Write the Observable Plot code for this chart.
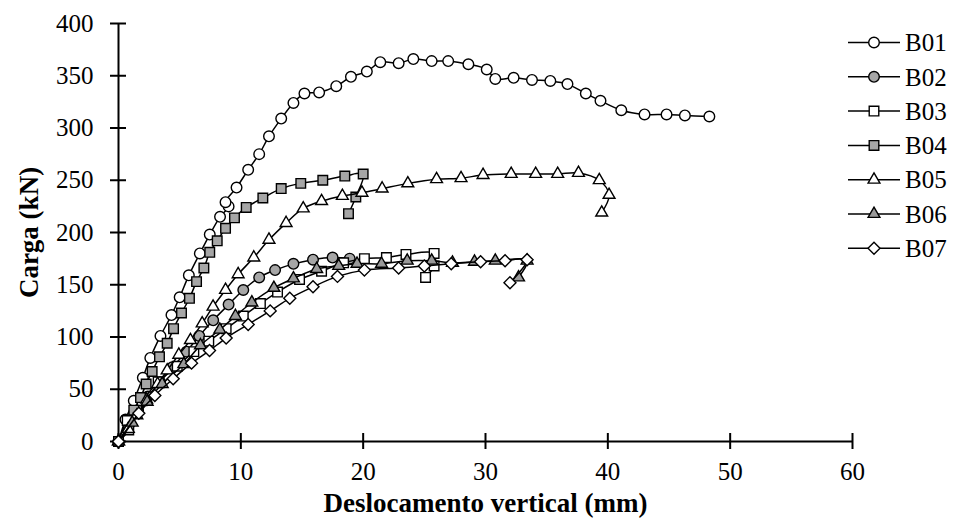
<!DOCTYPE html>
<html><head><meta charset="utf-8">
<script src="https://cdn.jsdelivr.net/npm/d3@7"></script>
<script src="https://cdn.jsdelivr.net/npm/@observablehq/plot@0.6"></script>
<style>
body{margin:0;background:#fff;}
#wrap{position:relative;width:957px;height:519px;background:#fff;}
#wrap svg, #wrap svg text{font-family:"Times New Roman",Times,"Liberation Serif","DejaVu Serif","Noto Serif","Nimbus Roman",FreeSerif,serif !important;}
g[aria-label="x-axis label"] text, g[aria-label="y-axis label"] text{font-weight:bold;font-size:27px;}
#legend{position:absolute;left:846px;top:0px;}
</style></head><body><div id="wrap"></div>
<script>
const xTicks = [0, 10, 20, 30, 40, 50, 60];
const yTicks = [0, 50, 100, 150, 200, 250, 300, 350, 400];
const seriesNames = ["B01", "B02", "B03", "B04", "B05", "B06", "B07"];

const b01x = [0, 0.57, 1.25, 1.99, 2.6, 3.43, 4.33, 5.0, 5.75, 6.65, 7.46, 8.3, 9.0, 8.75, 9.65, 10.6, 11.5, 12.3, 13.3, 14.3, 15.2, 16.4, 17.8, 19.0, 20.3, 21.4, 22.9, 24.1, 25.6, 26.95, 28.6, 30.1, 30.8, 32.3, 33.8, 35.3, 36.7, 38.2, 39.4, 41.1, 43.0, 44.8, 46.3, 48.3];
const b01y = [0, 21, 39, 61, 80, 101, 121, 138, 159, 180, 198, 215, 225, 229, 243, 260, 275, 292, 309, 324, 333, 334, 340, 349, 354, 363, 362, 366, 364, 364, 361, 356, 347, 348, 346, 345, 342, 333, 326, 317, 313, 313, 312, 311];

const b02x = [0, 0.9, 1.6, 2.4, 3.4, 4.4, 5.56, 6.6, 7.74, 9.0, 10.2, 11.5, 12.8, 14.3, 15.9, 17.5, 18.9];
const b02y = [0, 17, 30, 43, 57, 71, 86, 101, 116, 131, 145, 157, 164, 170, 174, 176, 175];

const b03x = [0, 0.71, 1.93, 3.24, 4.8, 6.16, 7.38, 8.8, 10.2, 11.6, 13.0, 14.8, 16.6, 18.4, 20.1, 21.9, 23.5, 25.8, 25.8, 25.1];
const b03y = [0, 20, 39, 57, 72, 86, 96, 108, 120, 132, 143, 155, 163, 171, 175, 176, 179, 180, 168, 157];

const b04x = [0, 0.84, 1.25, 1.8, 2.26, 2.75, 3.35, 3.98, 4.5, 5.15, 5.8, 6.38, 6.98, 7.46, 8.07, 8.75, 9.48, 10.44, 11.8, 13.3, 14.9, 16.7, 18.5, 20.0, 19.4, 18.8];
const b04y = [0, 11, 30, 42, 55, 67, 81, 94, 108, 123, 137, 153, 166, 181, 192, 204, 214, 224, 233, 242, 247, 250, 254, 256, 234, 218];

const b05x = [0, 0.8, 1.5, 2.3, 3.2, 3.98, 4.93, 5.88, 6.84, 7.73, 8.75, 9.78, 11.06, 12.3, 13.7, 15.1, 16.6, 18.3, 19.9, 21.55, 23.65, 26.0, 28.0, 29.8, 32.1, 34.1, 35.9, 37.6, 39.3, 40.1, 39.5];
const b05y = [0, 12, 25, 40, 55, 68, 83, 97, 113, 129, 145, 160, 176, 193, 209, 223, 230, 235, 238, 242, 247, 251, 252, 255, 256, 256, 256, 257, 250, 236, 219];

const b06x = [0, 1.12, 2.34, 3.57, 5.34, 6.7, 8.28, 9.56, 10.9, 12.7, 14.3, 16.2, 18.0, 19.5, 21.5, 23.6, 25.6, 27.3, 29.1, 30.8, 33.4, 32.7];
const b06y = [0, 18, 38, 55, 74, 92, 107, 120, 133, 147, 156, 165, 168, 170, 170, 173, 173, 171, 172, 173, 173, 157];

const b07x = [0, 1.66, 2.97, 4.47, 5.97, 7.44, 8.8, 10.6, 12.4, 14.0, 15.9, 17.9, 20.1, 22.9, 25.0, 27.2, 29.6, 31.6, 33.4, 32.0];
const b07y = [0, 27, 44, 60, 75, 87, 99, 112, 125, 137, 148, 158, 164, 166, 168, 170, 172, 173, 174, 152];

const xs = [b01x, b02x, b03x, b04x, b05x, b06x, b07x];
const ys = [b01y, b02y, b03y, b04y, b05y, b06y, b07y];

// styling per series
const symbols = ["circle", "circle", "square", "square", "triangle", "triangle", "diamond2"];
const fills = ["white", "#a6a6a6", "white", "#a6a6a6", "white", "#999999", "white"];
const radii = [5.3, 5.3, 5.4, 5.4, 4.4, 4.4, 5.4];

const FONT = '"Times New Roman",Times,"Liberation Serif","DejaVu Serif","Noto Serif",serif';

const seriesMarks = [];
seriesNames.forEach((name, i) => {
  const data = xs[i].map((x, j) => ({x, y: ys[i][j]}));
  seriesMarks.push(Plot.line(data, {x: "x", y: "y", curve: "catmull-rom", stroke: "black", strokeWidth: 1.5}));
  seriesMarks.push(Plot.dot(data, {x: "x", y: "y", symbol: symbols[i], r: radii[i], fill: fills[i], stroke: "black", strokeWidth: 1.4}));
});

const chart = Plot.plot({
  width: 957, height: 519,
  marginLeft: 118, marginRight: 105, marginTop: 23, marginBottom: 78,
  style: {fontFamily: FONT, fontSize: "25px", color: "black", background: "white", overflow: "visible"},
  x: {domain: [0, 60]},
  y: {domain: [0, 400]},
  marks: [
    Plot.ruleY([0], {stroke: "black", strokeWidth: 2}),
    Plot.ruleX([0], {stroke: "black", strokeWidth: 2}),
    Plot.ruleX(xTicks, {x: d => d, stroke: "black", strokeWidth: 2, insetTop: 410, insetBottom: -8}),
    Plot.ruleY(yTicks, {y: d => d, stroke: "black", strokeWidth: 2, insetLeft: -8, insetRight: 726}),
    Plot.axisX({ticks: xTicks, tickSize: 0, tickPadding: 21, fontSize: 25, label: "Deslocamento vertical (mm)", labelAnchor: "center", labelOffset: 70, labelArrow: "none"}),
    Plot.axisY({ticks: yTicks, tickSize: 0, tickPadding: 25, fontSize: 25, label: "Carga (kN)", labelAnchor: "center", labelOffset: 100, labelArrow: "none"}),
    ...seriesMarks
  ]
});
document.getElementById("wrap").appendChild(chart);

// legend
const symMap = {circle: d3.symbolCircle, square: d3.symbolSquare, triangle: d3.symbolTriangle, diamond2: d3.symbolDiamond2};
const leg = d3.create("svg").attr("id", "legend").attr("width", 111).attr("height", 280);
seriesNames.forEach((name, i) => {
  const g = leg.append("g").attr("transform", `translate(0,${42.5 + 34.3 * i})`);
  g.append("line").attr("x1", 2).attr("x2", 54).attr("y1", 0).attr("y2", 0).attr("stroke", "black").attr("stroke-width", 1.5);
  g.append("path").attr("d", d3.symbol(symMap[symbols[i]], Math.PI * radii[i] * radii[i])())
    .attr("transform", "translate(28,0)").attr("fill", fills[i]).attr("stroke", "black").attr("stroke-width", 1.4);
  g.append("text").attr("x", 59).attr("y", 0).attr("dy", "0.35em").attr("font-size", 25)
    .attr("font-family", FONT).attr("fill", "black").text(name);
});
document.getElementById("wrap").appendChild(leg.node());
</script>
</body></html>
